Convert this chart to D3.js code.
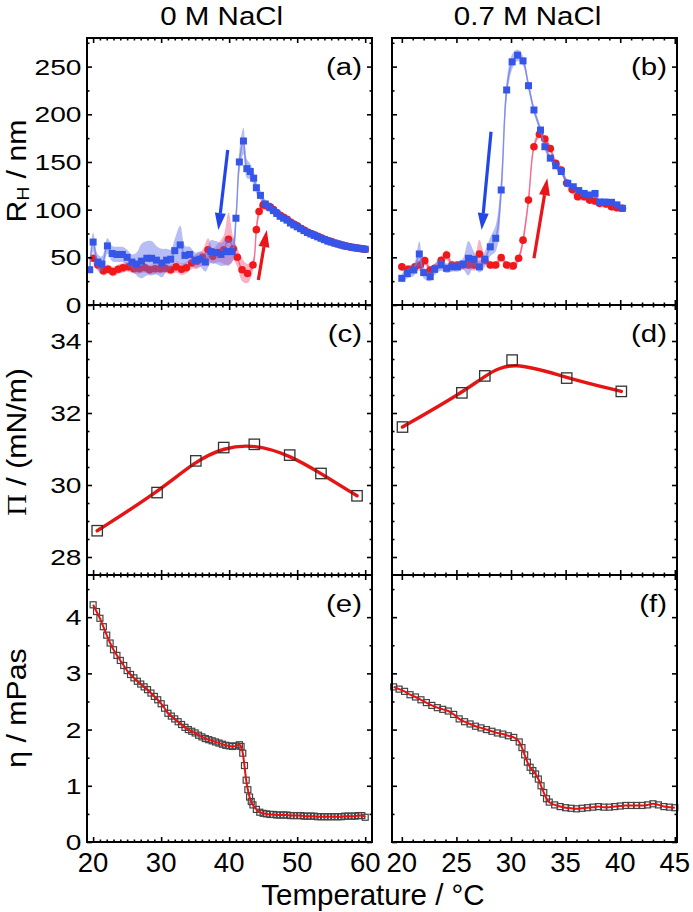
<!DOCTYPE html>
<html><head><meta charset="utf-8">
<script src="https://cdn.jsdelivr.net/npm/d3@7"></script>
<style>
body{margin:0;background:#fff}
svg text{font-family:"Liberation Sans",Arial,Helvetica,sans-serif;fill:#000}
</style>
</head><body>
<svg id="c" width="693" height="912"></svg>
<script>
// ---------- DATA ----------
// Panel (a): 0 M NaCl, hydrodynamic radius
const aCoolT = [19.5,20.0,20.7,21.3,22.1,22.8,23.5,24.3,25.0,25.7,26.4,27.1,27.9,28.6,29.3,30.1,30.8,31.4,32.0,32.8,33.5,34.2,35.0,35.7,36.5,37.3,38.1,38.8,39.6,40.4,41.0,41.5,42.1,42.6,43.1,43.6,44.0,44.6,45.3,46.0,46.5,47.0,47.5,48.0,48.5,49.0,49.5,50.0,50.5,51.0,51.5,52.0,52.5,53.0,53.5,54.0,54.5,55.0,55.5,56.0,56.5,57.0,57.5,58.0,58.5,59.0,59.5,60.0];
const aCoolR = [37,66,45,43,62,54,53,53,50,45,43,46,49,49,47,44,47,48,57,63,52,53,47,48,45,56,55,53,56,56,91,150,172,143,140,133,123,115,106,102,99,96,93,91,89,86,84,82,80,78,76,74.5,73,71.5,70,68.5,67,66,65,64,63,62,61.3,60.6,60,59.5,59,58.5];
const aCoolE = [8,10,8,8,8,8,8,8,8,8,12,18,18,18,15,15,12,10,12,20,10,8,8,8,10,12,12,12,14,12,10,12,14,10,8,7,6,5,4,4,4,4,3.5,3.5,3.5,3,3,3,3,3,3,3,3,3,3,3,3,3,3,3,3,3,3,3,3,3,3,3];
const aHeatT = [20.0,20.7,21.5,22.2,22.9,23.7,24.4,25.2,26.0,26.8,27.6,28.3,29.1,29.9,30.6,31.4,32.2,33.0,33.7,34.5,35.3,36.1,36.9,37.6,38.4,39.2,39.9,40.6,41.2,41.9,42.7,43.5,44.0,44.4,45.0,45.5,46.0,46.5,47.0,47.5,48.0,48.5,49.0,49.5,50.0,50.5,51.0,51.5,52.0,52.5,53.0,53.5,54.0,54.5,55.0,55.5,56.0,56.5,57.0,57.5,58.0,58.5,59.0,59.5,60.0];
const aHeatR = [49,42,36,37.5,35,37.5,39,40,38,38,39,37,38,38,38.5,37,40,37.5,39,44,46,50,58,51,55,58,69,59,50,37,33,42,79,98,105,104,103,100,97,94,92,90,87,85,83,80.5,78.5,76.5,75,73.5,72,70.5,69,67.5,66.5,65,64,63,62,61.3,60.6,60,59.5,59,58.5];
const aHeatE = [6,6,5,5,5,5,5,5,5,5,5,5,5,5,5,5,6,6,6,6,8,8,12,8,10,15,28,12,10,12,10,6,6,6,6,5,5,5,4,4,4,4,4,4,4,4,4,4,4,4,4,4,4,4,4,4,4,4,4,4,4,4,4,4,4];

// Panel (b): 0.7 M NaCl, hydrodynamic radius
const bCoolT = [20.0,20.5,21.1,21.6,22.0,22.6,23.0,23.6,24.1,24.6,25.1,25.6,26.1,26.6,27.1,27.6,28.1,28.6,29.1,29.6,30.1,30.6,31.1,31.6,32.1,32.7,33.1,33.6,34.1,34.6,35.2,35.7,36.2,36.7,37.2,37.7,38.1,38.6,39.2,39.7,40.2];
const bCoolR = [28,33,36.7,53.5,34,29.7,37.4,42,38.5,40,40,43,49,48,40,48,61,70,120.6,225.5,255,262,256,230,204.5,183.5,166,154,146,140,127.6,124,120,117,115.4,117,108,108,107.7,105,101.4];
const bCoolE = [5,5,6,13,6,5,6,6,5,5,5,6,18,8,6,8,10,14,14,10,8,6,5,5,4,4,4,3,3,3,3,3,3,3,3,3,3,3,3,3,3];
const bHeatT = [20.0,20.6,21.2,21.7,22.1,22.6,23.0,23.6,24.1,24.6,25.1,25.6,26.1,26.6,27.1,27.6,28.1,28.6,29.1,29.6,30.2,30.7,31.1,31.6,32.1,32.6,33.1,33.6,34.1,34.6,35.1,35.6,36.1,36.7,37.2,37.7,38.1,38.7,39.2,39.7,40.2];
const bHeatR = [40,37.4,40,42,46.5,36.7,38.5,47,52.4,42,42,42,42,42,53.5,47,42,42,49.7,42,41,49,68,110,166,179,174,164,148.6,141.6,128,121,113.6,113.6,110,109,106.6,106,103,102,101.4];
const bHeatE = [4,4,4,6,4,4,4,4,5,4,4,4,4,6,15,5,4,4,4,4,4,4,5,5,4,4,4,4,4,4,4,4,4,4,4,4,4,4,4,4,4];

// Panels (c),(d): surface pressure
const cT = [20.6,29.4,35.1,39.2,43.7,48.9,53.5,58.8];
const cP = [28.73,29.79,30.67,31.04,31.13,30.83,30.32,29.70];
const dT = [20.06,25.5,27.6,30.1,35.1,40.1];
const dP = [31.61,32.56,33.03,33.47,32.97,32.60];

// Panels (e),(f): viscosity
const eT = [20,20.5,21,21.5,22,22.5,23,23.5,24,24.5,25,25.5,26,26.5,27,27.5,28,28.5,29,29.5,30,30.5,31,31.5,32,32.5,33,33.5,34,34.5,35,35.5,36,36.5,37,37.5,38,38.5,39,39.5,40,40.5,41,41.5,41.75,42,42.25,42.5,42.75,43,43.25,43.5,44,44.5,45,45.5,46,46.5,47,47.5,48,48.5,49,49.5,50,50.5,51,51.5,52,52.5,53,53.5,54,54.5,55,55.5,56,56.5,57,57.5,58,58.5,59,59.5,60];
const eV = [4.22,4.10,3.98,3.83,3.68,3.54,3.42,3.32,3.23,3.14,3.05,2.98,2.92,2.86,2.81,2.76,2.71,2.65,2.59,2.53,2.46,2.38,2.29,2.24,2.19,2.14,2.09,2.04,2.00,1.97,1.94,1.90,1.87,1.84,1.82,1.80,1.78,1.76,1.74,1.72,1.71,1.70,1.71,1.73,1.70,1.58,1.36,1.10,0.93,0.80,0.72,0.66,0.58,0.53,0.51,0.50,0.49,0.49,0.48,0.48,0.48,0.48,0.47,0.47,0.47,0.47,0.46,0.46,0.46,0.46,0.45,0.45,0.45,0.45,0.45,0.45,0.45,0.45,0.46,0.46,0.46,0.46,0.47,0.47,0.44];
const fT = [19.25,19.75,20.25,20.75,21.25,21.75,22.25,22.75,23.25,23.75,24.25,24.75,25.25,25.75,26.25,26.75,27.25,27.75,28.25,28.75,29.25,29.75,30.25,30.75,31.0,31.25,31.5,31.75,32.0,32.25,32.5,32.75,33.0,33.25,33.5,34.0,34.5,35.0,35.5,36.0,36.5,37.0,37.5,38.0,38.5,39.0,39.5,40.0,40.5,41.0,41.5,42.0,42.5,43.0,43.5,44.0,44.5,45.0];
const fV = [2.76,2.72,2.68,2.62,2.58,2.53,2.48,2.43,2.39,2.36,2.33,2.27,2.19,2.14,2.10,2.06,2.03,2.00,1.97,1.94,1.92,1.89,1.86,1.78,1.68,1.55,1.42,1.33,1.27,1.21,1.12,1.00,0.88,0.77,0.71,0.66,0.63,0.61,0.60,0.59,0.60,0.61,0.62,0.63,0.62,0.62,0.63,0.64,0.65,0.65,0.65,0.65,0.66,0.68,0.66,0.63,0.62,0.61];

// Tick values
const xTicksL = [20,30,40,50,60];
const xTicksR = [20,25,30,35,40,45];
const yTicksA = [0,50,100,150,200,250];
const yTicksC = [28,30,32,34];
const yTicksE = [0,1,2,3,4];
const titles = ["0 M NaCl","0.7 M NaCl"];
const panelLabels = ["(a)","(b)","(c)","(d)","(e)","(f)"];

// arrow annotations [T0, v0, T1, v1] (tail -> tip)
const arrowsA = [{c:"#2346e6", p:[39.79,162.5,38.41,78.6]},{c:"#e8161b", p:[44.29,26.2,45.53,78.6]}];
const arrowsB = [{c:"#2346e6", p:[28.17,181.7,27.31,78.6]},{c:"#e8161b", p:[32.10,49,33.32,132.8]}];

// ---------- LAYOUT ----------
const svg = d3.select("#c");
const cols = [[87,372],[392,677]];
const rows = [[38,305],[305,575],[575,842]];
const xDom = [[19.1,61],[19.1,45.2]];
const yDom = [[0,280],[27.5,35],[0,4.75]];
const yMinor = [
  d3.range(25,280,50),
  [28.5,29,29.5,30.5,31,31.5,32.5,33,33.5,34.5],
  [0.5,1.5,2.5,3.5,4.5]
];
const yMajor = [yTicksA,yTicksC,yTicksE];
const xMajor = [xTicksL,xTicksR];
const xMinor = [d3.range(20,61,1).filter(v=>v%10!==0), d3.range(20,46,1).filter(v=>v%5!==0)];

function ticks(g, axisFn, scale, vals, size, tr){
  g.append("g").attr("transform",tr)
   .call(axisFn(scale).tickValues(vals).tickSize(size).tickFormat(""))
   .call(s=>{s.select(".domain").remove(); s.selectAll("text").remove();})
   .selectAll("line").attr("stroke","#000").attr("stroke-width",1.6);
}

const panels = [];
for(let r=0;r<3;r++){
  for(let c=0;c<2;c++){
    const [x0,x1]=cols[c], [y0,y1]=rows[r];
    const x = d3.scaleLinear().domain(xDom[c]).range([x0,x1]);
    const y = d3.scaleLinear().domain(yDom[r]).range([y1,y0]);
    const g = svg.append("g");
    panels.push({g,x,y,x0,x1,y0,y1,r,c});
  }
}

// ---------- DLS panels ----------
function dls(P, heatT, heatR, heatE, coolT, coolR, coolE, arrows){
  const {g,x,y} = P;
  const curve = d3.curveCatmullRom.alpha(0.5);
  const area = (T,E)=>d3.area().curve(curve).x((d,i)=>x(T[i])).y0((d,i)=>y(d-E[i])).y1((d,i)=>y(d+E[i]));
  const line = (T)=>d3.line().curve(curve).x((d,i)=>x(T[i])).y(d=>y(d));
  // heating (red)
  g.append("path").attr("d",area(heatT,heatE)(heatR)).attr("fill","rgba(240,70,120,0.42)");
  g.append("path").attr("d",line(heatT)(heatR)).attr("fill","none").attr("stroke","rgba(240,90,130,0.8)").attr("stroke-width",1.5);
  g.append("g").selectAll("circle").data(heatR).join("circle")
    .attr("cx",(d,i)=>x(heatT[i])).attr("cy",d=>y(d)).attr("r",3.8).attr("fill","#f01818");
  // cooling (blue)
  g.append("path").attr("d",area(coolT,coolE)(coolR)).attr("fill","rgba(95,110,235,0.45)");
  g.append("path").attr("d",line(coolT)(coolR)).attr("fill","none").attr("stroke","rgba(110,125,230,0.75)").attr("stroke-width",1.5);
  g.append("g").selectAll("rect").data(coolR).join("rect")
    .attr("x",(d,i)=>x(coolT[i])-3.5).attr("y",d=>y(d)-3.5).attr("width",7).attr("height",7).attr("fill","#3556e8");
  // arrows
  arrows.forEach(a=>{
    const [t0,v0,t1,v1]=a.p;
    const X0=x(t0),Y0=y(v0),X1=x(t1),Y1=y(v1);
    const ang=Math.atan2(Y1-Y0,X1-X0), L=17, W=5.5;
    const bx=X1-L*Math.cos(ang), by=Y1-L*Math.sin(ang);
    g.append("line").attr("x1",X0).attr("y1",Y0).attr("x2",bx).attr("y2",by)
      .attr("stroke",a.c).attr("stroke-width",3.2);
    const px=-Math.sin(ang), py=Math.cos(ang);
    g.append("path").attr("d",`M${X1},${Y1}L${bx+W*px},${by+W*py}L${bx-W*px},${by-W*py}Z`).attr("fill",a.c);
  });
}
dls(panels[0], aHeatT,aHeatR,aHeatE, aCoolT,aCoolR,aCoolE, arrowsA);
dls(panels[1], bHeatT,bHeatR,bHeatE, bCoolT,bCoolR,bCoolE, arrowsB);

// ---------- Surface pressure ----------
function pressure(P,T,V){
  const {g,x,y}=P;
  g.append("path").attr("d",d3.line().curve(d3.curveBasis).x((d,i)=>x(T[i])).y(d=>y(d))(V))
    .attr("fill","none").attr("stroke","#e81414").attr("stroke-width",3.4).attr("stroke-linecap","round");
  g.append("g").selectAll("rect").data(V).join("rect")
    .attr("x",(d,i)=>x(T[i])-5.2).attr("y",d=>y(d)-5.2).attr("width",10.4).attr("height",10.4)
    .attr("fill","none").attr("stroke","#333").attr("stroke-width",1.3);
}
pressure(panels[2],cT,cP);
pressure(panels[3],dT,dP);

// ---------- Viscosity ----------
function visc(P,T,V){
  const {g,x,y}=P;
  g.append("g").selectAll("rect").data(V).join("rect")
    .attr("x",(d,i)=>x(T[i])-3).attr("y",d=>y(d)-3).attr("width",6).attr("height",6)
    .attr("fill","none").attr("stroke","#444").attr("stroke-width",1.2);
  g.append("path").attr("d",d3.line().curve(d3.curveMonotoneX).x((d,i)=>x(T[i])).y(d=>y(d))(V))
    .attr("fill","none").attr("stroke","#e41212").attr("stroke-width",2);
}
visc(panels[4],eT,eV);
visc(panels[5],fT,fV);

// ---------- frames, ticks, labels ----------
panels.forEach((P,k)=>{
  const {g,x,y,x0,x1,y0,y1,r,c}=P;
  ticks(g,d3.axisBottom,x,xMajor[c],-5,`translate(0,${y1})`);
  ticks(g,d3.axisBottom,x,xMinor[c],-2.5,`translate(0,${y1})`);
  ticks(g,d3.axisTop,x,xMajor[c],-5,`translate(0,${y0})`);
  ticks(g,d3.axisTop,x,xMinor[c],-2.5,`translate(0,${y0})`);
  ticks(g,d3.axisLeft,y,yMajor[r],-5,`translate(${x0},0)`);
  ticks(g,d3.axisLeft,y,yMinor[r],-2.5,`translate(${x0},0)`);
  ticks(g,d3.axisRight,y,yMajor[r],-5,`translate(${x1},0)`);
  ticks(g,d3.axisRight,y,yMinor[r],-2.5,`translate(${x1},0)`);
  g.append("rect").attr("x",x0).attr("y",y0).attr("width",x1-x0).attr("height",y1-y0)
    .attr("fill","none").attr("stroke","#000").attr("stroke-width",2);
  // panel label
  g.append("text").attr("transform",`translate(${x1-10},${y0+37}) scale(1.2,1)`)
    .attr("text-anchor","end").attr("font-size",24.5).text(panelLabels[k]);
  // y tick labels (left column)
  if(c===0){
    yMajor[r].forEach(v=>{
      g.append("text").attr("transform",`translate(81.5,${y(v)}) scale(1.25,1)`)
        .attr("text-anchor","end").attr("dy","0.36em").attr("font-size",22.5).text(v);
    });
  }
  // x tick labels (bottom row)
  if(r===2){
    xMajor[c].forEach(v=>{
      g.append("text").attr("x",x(v)).attr("y",871.5).attr("text-anchor","middle")
        .attr("font-size",27.5).text(v);
    });
  }
});

// column titles
[[221.7,titles[0]],[527.6,titles[1]]].forEach(([cx,t])=>{
  svg.append("text").attr("transform",`translate(${cx},25) scale(1.18,1)`)
    .attr("text-anchor","middle").attr("font-size",25).text(t);
});

// y axis labels
const yl1 = svg.append("text").attr("transform","translate(26,171) rotate(-90) scale(1.12,1)")
  .attr("text-anchor","middle").attr("font-size",27);
yl1.append("tspan").text("R");
yl1.append("tspan").attr("font-size",17).attr("dy",3).text("H");
yl1.append("tspan").attr("dy",-3).text(" / nm");

const yl2 = svg.append("text").attr("transform","translate(26,442) rotate(-90) scale(1.12,1)")
  .attr("text-anchor","middle").attr("font-size",27);
yl2.append("tspan").attr("font-family","'Liberation Serif','DejaVu Serif',serif").text("\u03A0");
yl2.append("tspan").text(" / (mN/m)");

svg.append("text").attr("transform","translate(26,708) rotate(-90) scale(1.12,1)")
  .attr("text-anchor","middle").attr("font-size",27).text("\u03B7 / mPas");

// x axis label
svg.append("text").attr("x",373).attr("y",905).attr("text-anchor","middle")
  .attr("font-size",29.5).text("Temperature / \u00B0C");
</script>
</body></html>
